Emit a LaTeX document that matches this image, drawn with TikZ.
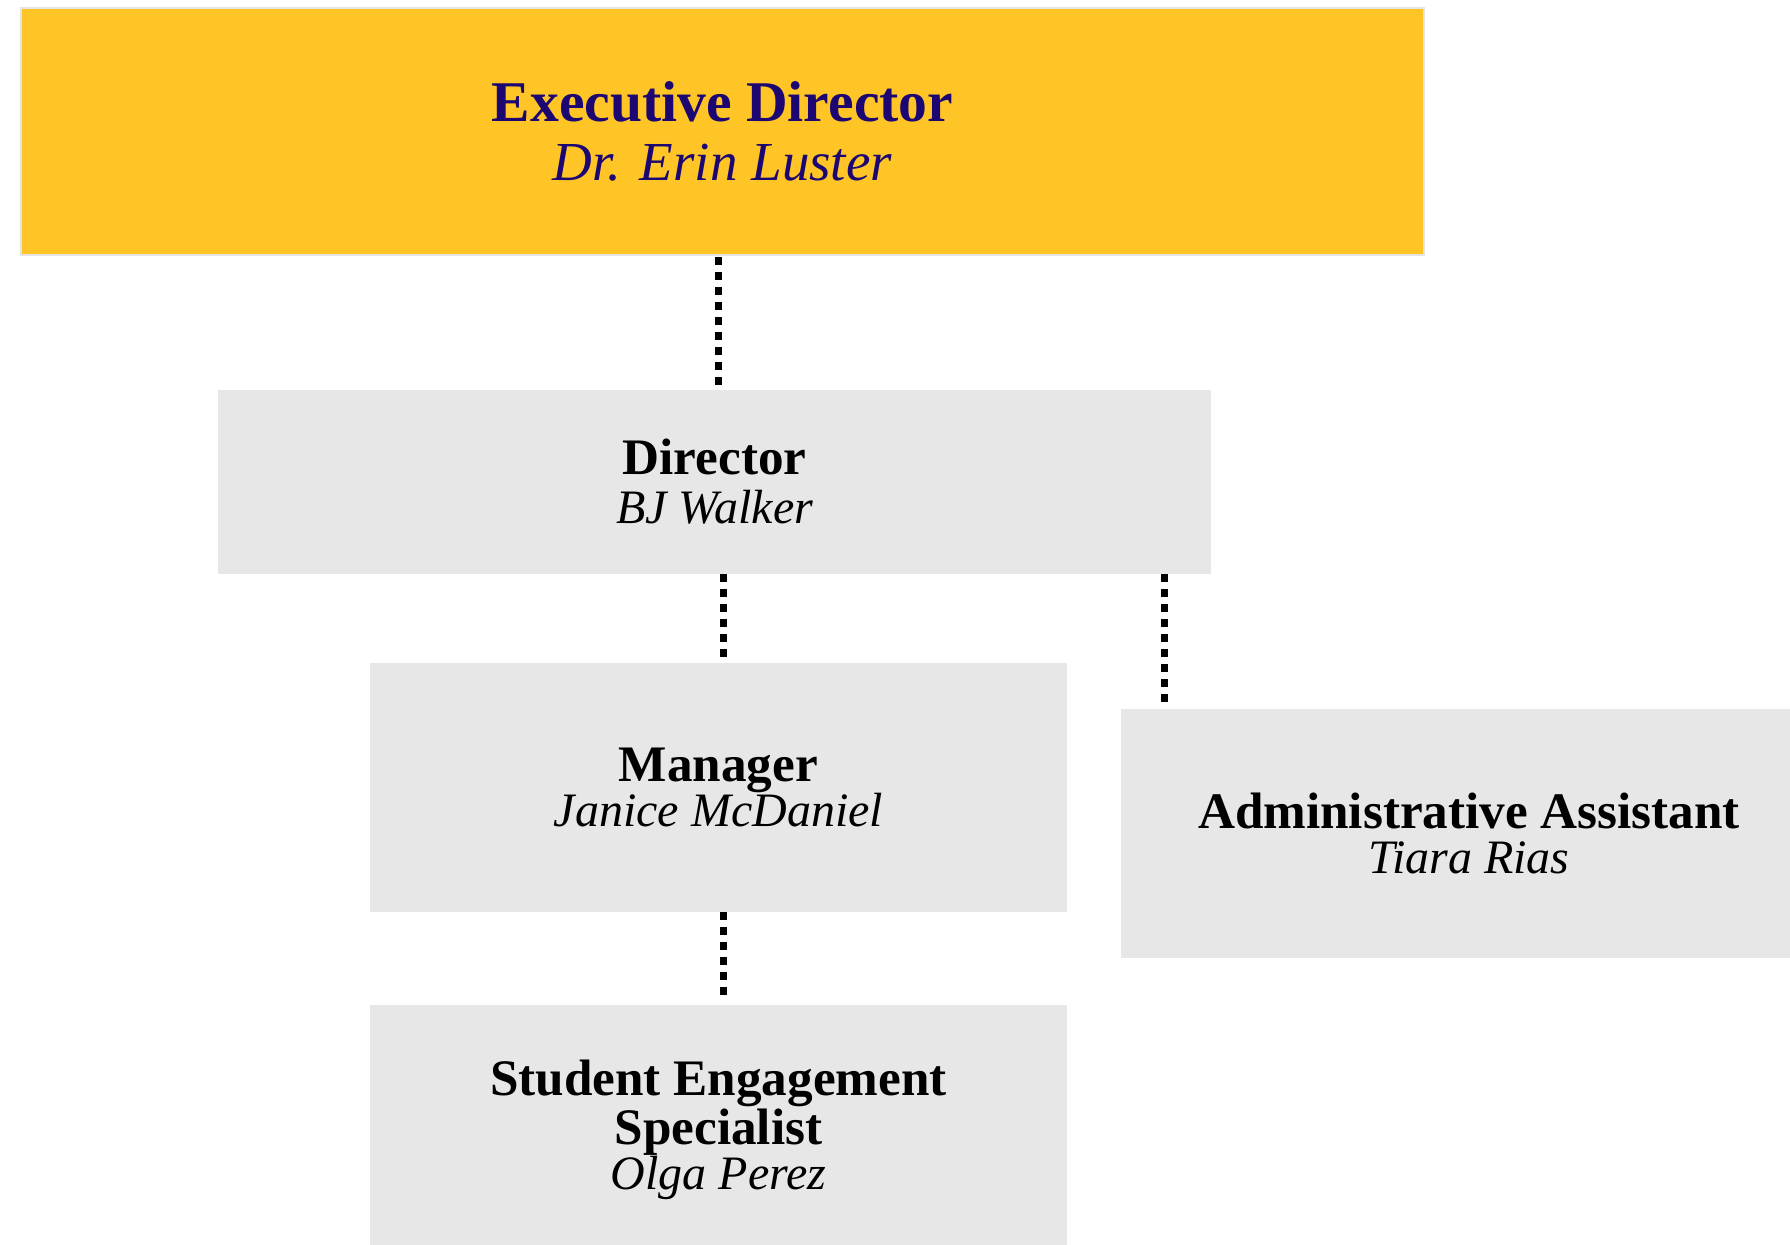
\documentclass[tikz,border=0pt]{standalone}
\usepackage{fontspec}
\setmainfont{Liberation Serif}
\usetikzlibrary{positioning}

\definecolor{execgold}{HTML}{FFC426}
\definecolor{execnavy}{HTML}{1B0672}
\definecolor{boxgray}{HTML}{E7E7E7}
\definecolor{edgegray}{HTML}{E4E4E4}

\newcommand{\who}[1]{{\fontsize{24}{22.5}\selectfont\mdseries\itshape #1}}

\tikzset{
  orgbox/.style={rectangle, fill=boxgray, inner sep=0pt, align=center,
    minimum width=348.5pt, minimum height=124.5pt,
    font=\fontsize{25.6}{22.5}\selectfont\bfseries},
  execbox/.style={orgbox, fill=execgold, draw=edgegray, line width=1pt,
    text=execnavy, font=\fontsize{28.8}{29.5}\selectfont\bfseries},
  link/.style={line width=3.5pt, dash pattern=on 4pt off 3.5pt, shorten >=2.5pt}
}

\begin{document}
\begin{tikzpicture}[x=0.5pt,y=0.5pt]
        \useasboundingbox (0,0) rectangle (1790,-1245);

        \node [execbox, minimum width=701.5pt, minimum height=123.5pt] (exec) at (722.5,-131.5)
            {Executive Director\\ {\fontsize{27.5}{29.5}\selectfont\mdseries\itshape Dr. Erin Luster}};
        \node [orgbox, minimum width=496.5pt, minimum height=92pt] (dir) at (714.5,-482)
            {Director\\[2pt] \who{BJ Walker}};
        \node [orgbox] (mgr) at (718.5,-787.5)
            {Manager\\ \who{Janice McDaniel}};
        \node [orgbox] (admin) at (1469,-833.5)
            {Administrative Assistant\\ \who{Tiara Rias}};
        \node [orgbox, minimum height=125pt] (spec) at (718.5,-1130)
            {Student Engagement\\ Specialist\\ \who{Olga Perez}};

        \coordinate (exec foot) at (718.5,-257);
        \coordinate (mgr top) at (723,-663);
        \coordinate (adm top) at (1164.5,-709);

        \draw [link, shorten >=0pt] (exec foot) -- (exec foot |- dir.north);
        \draw [link] (mgr top |- dir.south) -- (mgr top);
        \draw [link] (adm top |- dir.south) -- (adm top);
        \draw [link] (mgr top |- mgr.south) -- (mgr top |- spec.north);
\end{tikzpicture}
\end{document}
